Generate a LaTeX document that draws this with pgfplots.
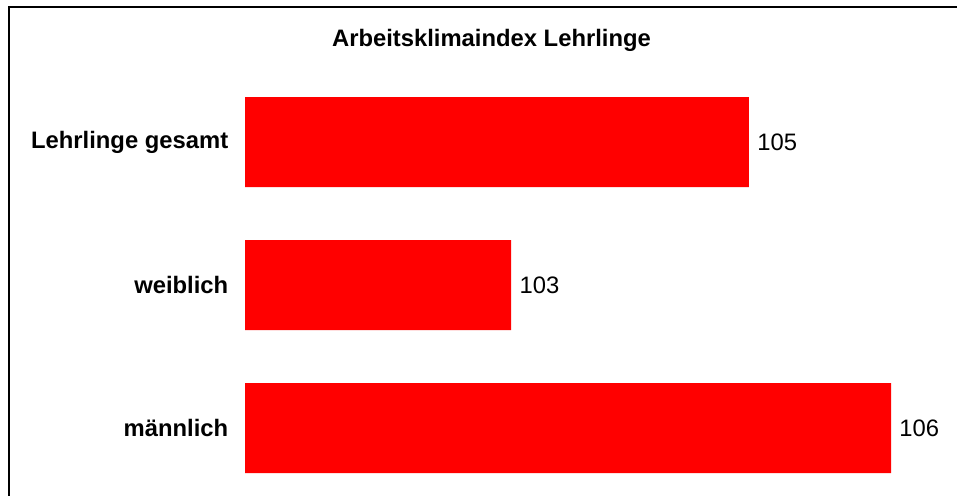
\documentclass[border=0pt]{standalone}
\usepackage{pgfplots}
\pgfplotsset{compat=1.18}
\usepackage{fontspec}
\setmainfont{Liberation Sans}
\begin{document}
\fontsize{11.9}{14}\selectfont
\begin{tikzpicture}
\useasboundingbox (0,0) rectangle (478.5pt,247.5pt);
\clip (0,0) rectangle (478.5pt,247.5pt);
% frame (pixel 1 = 0.5pt)
\draw[line width=1pt, black] (4.5pt,-5pt) -- (4.5pt,244pt) -- (490pt,244pt);
\node[anchor=base, font=\bfseries] at (245.75pt,224.15pt) {Arbeitsklimaindex Lehrlinge};
\begin{axis}[
  at={(122.5pt,-2.25pt)}, anchor=south west,
  scale only axis,
  width=355.3pt, height=214.5pt,
  xmin=101, xmax=106.5,
  ymin=-0.5, ymax=2.5,
  y dir=reverse,
  axis line style={draw=none},
  xtick=\empty,
  xbar, bar width=45pt,
  ytick={0,1,2},
  yticklabels={Lehrlinge gesamt, weiblich, männlich},
  yticklabel style={font=\bfseries\fontsize{11.9}{14}\selectfont, inner sep=0pt, anchor=east, xshift=-8.2pt},
  major tick length=0pt,
  tick style={draw=none},
  /pgf/number format/assume math mode=true,
  nodes near coords={\pgfmathprintnumber[fixed,precision=0]{\pgfplotspointmeta}},
  nodes near coords style={anchor=west, inner sep=0pt, xshift=4pt, font=\fontsize{11.9}{14}\selectfont},
  clip=false,
]
\addplot[fill=red, draw=none] coordinates {(104.90,0) (103.06,1) (106.0,2)};
\end{axis}
\end{tikzpicture}
\end{document}
